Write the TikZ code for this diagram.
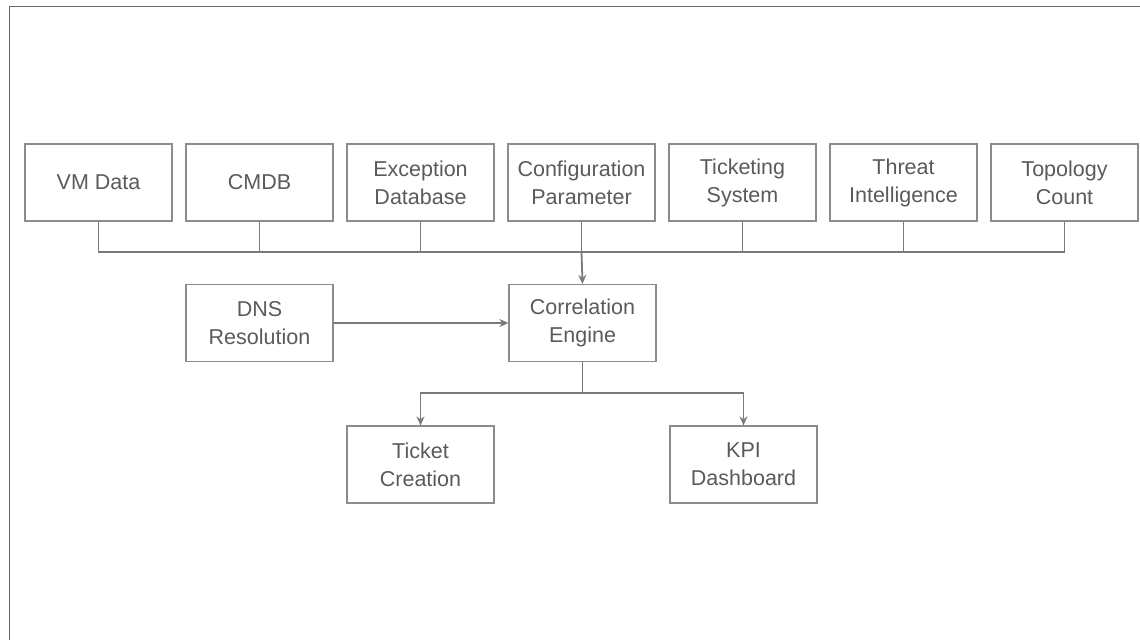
\documentclass[tikz,border=0pt]{standalone}
\usepackage{fontspec}
\setmainfont{Liberation Sans}
\usetikzlibrary{arrows.meta}
\definecolor{boxline}{HTML}{8C8C8C}
\definecolor{boxtext}{HTML}{5A5A5A}
\definecolor{linegray}{HTML}{7A7A7A}
\definecolor{framegray}{HTML}{666666}
\tikzset{
  block/.style={draw=boxline, line width=1.2pt, minimum width=147pt, minimum height=77pt,
    inner sep=0pt, align=center, text=boxtext, font=\fontsize{21.5}{28}\selectfont},
  wire/.style={draw=linegray, line width=1.3pt},
  tip/.style={wire, -{Stealth[length=9pt,width=8pt]}}
}
\begin{document}
\begin{tikzpicture}[x=1pt,y=-1pt]
      \useasboundingbox (0,0) rectangle (1140,640);
      \draw[framegray, line width=1.5pt] (9.5,640) -- (9.5,6.5) -- (1140,6.5);

      % data sources
      \foreach \name/\txt [count=\i from 0] in {vm/{VM Data}, cmdb/{CMDB},
          exc/{Exception\\Database}, conf/{Configuration\\Parameter},
          tick/{Ticketing\\System}, threat/{Threat\\Intelligence},
          topo/{Topology\\Count}} {
          \node[block] (\name) at (98.5+161*\i,182.5) {\txt};
        }

      \node[block] (dns) at (259.5,323) {DNS\\Resolution};
      \node[block] (corr) at (582.5,323) {Correlation\\Engine};
      \node[block] (ticket) at (420.5,464.5) {Ticket\\Creation};
      \node[block] (kpi) at (743.5,464.5) {KPI\\Dashboard};

      \coordinate (bus) at (0,252);
      \coordinate (split) at (0,393);

      \draw[wire] (vm.south) |- (topo.south |- bus) -- (topo.south);
      \foreach \name in {cmdb,exc,conf,tick,threat}
        \draw[wire] (\name.south) -- (\name.south |- bus);
      \draw[tip, line width=1.8pt] (conf.south |- bus) -- (corr.north);

      \draw[tip] (dns) -- (corr);

      \draw[wire] (corr.south) -- (corr.south |- split);
      \draw[tip] (corr.south |- split) -| (ticket.north);
      \draw[tip] (corr.south |- split) -| (kpi.north);
    \end{tikzpicture}
\end{document}
